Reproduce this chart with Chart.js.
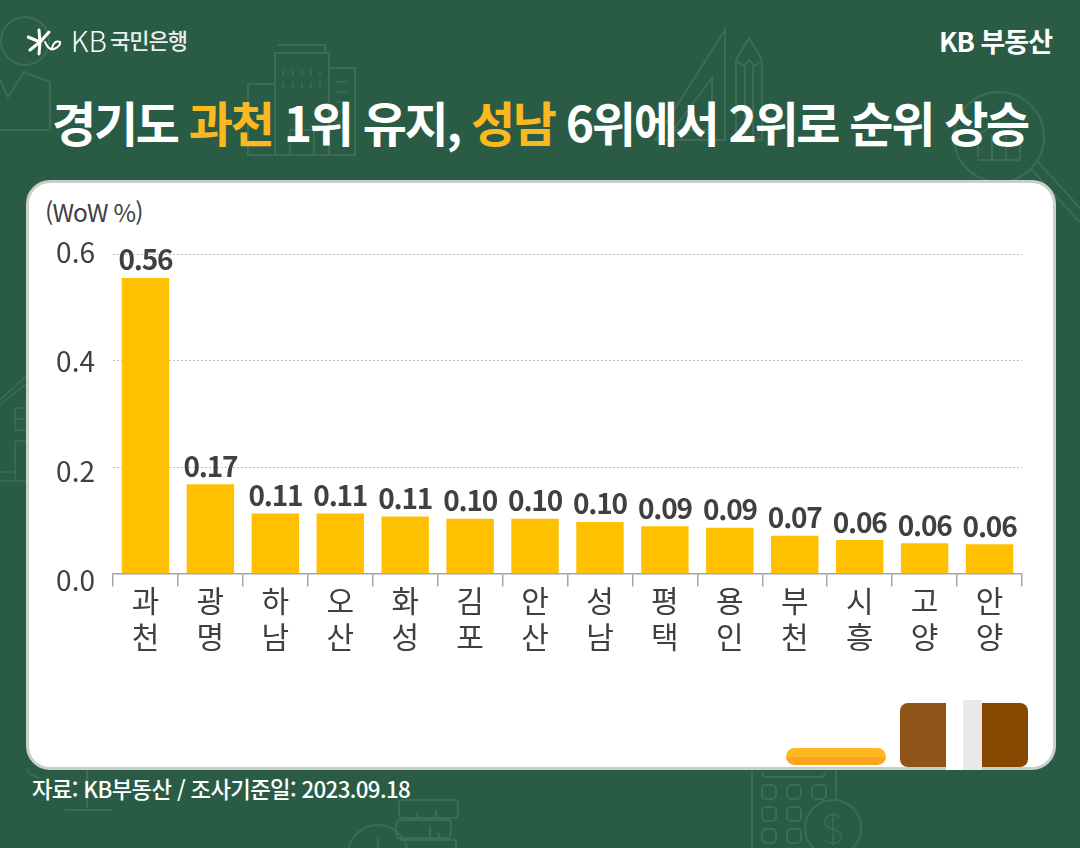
<!DOCTYPE html>
<html lang="ko">
<head>
<meta charset="utf-8">
<title>경기도 과천 1위 유지</title>
<script src="https://cdn.jsdelivr.net/npm/chart.js@4/dist/chart.umd.min.js"></script>
<style>
  * { box-sizing: border-box; }
  html, body { margin: 0; padding: 0; }
  body { width: 1080px; height: 848px; overflow: hidden; background: #2a5c45; position: relative;
         font-family: "Noto Sans CJK KR", "Noto Sans", sans-serif; }
  .txt { position: absolute; white-space: nowrap; line-height: 1; }
  #deco { position: absolute; left: 0; top: 0; }
  #panel { position: absolute; left: 26px; top: 180px; width: 1030px; height: 590px; background: #fff;
           border: 3px solid #c9cfcb; border-radius: 24px; }
  #chart { position: absolute; left: 0; top: 0; }
  #logoKb { left: 71px; top: 26px; font-size: 28px; font-weight: 300; color: #fff; letter-spacing: 0.4px; }
  #logoBank { left: 110px; top: 28px; font-size: 22px; font-weight: 500; color: #e9f0ec; letter-spacing: -1px; }
  #brand { right: 28px; top: 27px; font-size: 27px; font-weight: 700; color: #fff; letter-spacing: -1px; }
  #title { left: 0; width: 1080px; text-align: center; top: 97px; font-size: 48px; font-weight: 700; color: #fff; letter-spacing: -2.3px; }
  #title span { color: #fbb81f; }
  #unit { left: 45px; top: 200px; font-size: 24.5px; color: #404040; letter-spacing: -0.9px; }
  #source { left: 32px; top: 777px; font-size: 22.3px; font-weight: 500; color: #fff; letter-spacing: -0.65px; }
  .blk { position: absolute; }
</style>
</head>
<body>
<svg id="deco" width="1080" height="848" fill="none" stroke="#3c6c57" stroke-width="2">
  <!-- 왼쪽 위 그래프 -->
  <circle cx="25" cy="41" r="24"/>
  <path d="M0 80 L8 97 L24 72 L50 82 V130 H0"/>
  <!-- 건물 -->
  <path d="M248 155 V84 H275 V53 H329 V68 H355 V155 Z M275 84 V155 M329 53 V155 M278 45 H325 V53 M290 130 V155 M314 130 V155 M290 130 H314"/>
  <path d="M335 82 H347 M335 92 H347 M335 102 H347 M335 112 H347 M335 122 H347" stroke-width="1.5"/>
  <path d="M283 70 V75 M293 70 V75 M302 70 V75 M311 70 V75 M320 70 V75 M283 82 V88 M293 82 V88 M302 82 V88 M311 82 V88 M320 82 V88" stroke-width="1.5"/>
  <!-- 삼각자, 연필 -->
  <path d="M725 30 V140 H655 Z M712 78 V130 H673 Z"/>
  <path d="M736 140 V60 L749 38 L762 60 V140 Z M736 60 L743 66 L749 60 L755 66 L762 60 M745 66 V140 M753 66 V140"/>
  <!-- 돋보기 -->
  <circle cx="999" cy="137" r="45"/>
  <path d="M978 157 V135 L999 122 L1020 135 V160 M992 135 V160 M1006 135 V160 M978 160 H1020 M1030 168 L1080 222 M1038 162 L1080 208"/>
  <!-- 왼쪽 집 -->
  <path d="M0 400 L26 376 M0 405 L26 384 M15 408 H26 M15 408 V430 H26 M15 419 H26 M15 441 H26 M15 441 V482 M0 472 H15 M0 481 H26" stroke-width="1.5"/>
  <!-- 아래쪽 장식 -->
  <path d="M752 770 V848 M836 770 V800 M762 772 Q762 777 767 777 H820 Q825 777 825 772"/>
  <rect x="762" y="785" width="14" height="14" rx="4"/><rect x="787" y="785" width="14" height="14" rx="4"/><rect x="812" y="785" width="14" height="14" rx="4"/>
  <rect x="762" y="807" width="14" height="14" rx="4"/><rect x="787" y="807" width="14" height="14" rx="4"/>
  <rect x="762" y="829" width="14" height="14" rx="4"/><rect x="787" y="829" width="14" height="14" rx="4"/>
  <circle cx="833" cy="828" r="28"/>
  <path d="M841 818 Q833 811 826 818 Q822 826 833 829 Q845 833 840 841 Q832 847 824 839 M833 812 V846" stroke-width="1.5"/>
  <path d="M402 800 H456 Q458 800 458 804 V815 Q458 818 454 818 H402 Q399 818 399 814 V804 Q399 800 402 800 Z M398 820 H450 Q452 824 450 838 H398 Q393 829 398 820 Z M400 840 H456 V848 M417 813 V818 M436 810 V818 M430 826 V838 M439 833 V838"/>
  <circle cx="378" cy="855" r="30"/>
  <path d="M378 838 V848"/>
  <path d="M87 770 V808 M65 810 H113" stroke-width="2"/>
  <path d="M26 768 Q28 775 40 778" stroke-width="1.5"/>
</svg>
<div id="panel"></div>
<!-- 패널 아래 장식 -->
<div class="blk" style="left:786px;top:748px;width:100px;height:17px;border-radius:9px;background:linear-gradient(#ffb81f 50%,#fca61f 50%)"></div>
<div class="blk" style="left:900px;top:703px;width:46px;height:64px;border-radius:8px 0 0 8px;background:#8f5518"></div>
<div class="blk" style="left:946px;top:700px;width:36px;height:70px;background:#fff"></div>
<div class="blk" style="left:963px;top:700px;width:19px;height:70px;background:#e9e9e9"></div>
<div class="blk" style="left:982px;top:703px;width:46px;height:64px;border-radius:0 8px 8px 0;background:#844800"></div>

<svg class="blk" style="left:27px;top:28px" width="46" height="28" fill="none" stroke="#fff" stroke-linecap="round">
  <path d="M1 9 L13 14 L3 22 M13 14 L12 26 M12 2 L13 14 M13 14 L22 4" stroke-width="3"/>
  <path d="M18 14 Q22 23 27 21 Q34 18 33 14 Q27 12 25 20" stroke-width="2"/>
</svg>
<div class="txt" id="logoKb">KB</div>
<div class="txt" id="logoBank">국민은행</div>
<div class="txt" id="brand">KB 부동산</div>
<div class="txt" id="title">경기도 <span>과천</span> 1위 유지, <span>성남</span> 6위에서 2위로 순위 상승</div>
<div class="txt" id="unit">(WoW %)</div>
<div class="txt" id="source">자료: KB부동산 / 조사기준일: 2023.09.18</div>

<canvas id="chart" width="1080" height="848"></canvas>

<script>
const categories = [
  ['과', '천'], ['광', '명'], ['하', '남'], ['오', '산'], ['화', '성'], ['김', '포'], ['안', '산'],
  ['성', '남'], ['평', '택'], ['용', '인'], ['부', '천'], ['시', '흥'], ['고', '양'], ['안', '양']
];
const barValues = [0.556, 0.168, 0.113, 0.113, 0.107, 0.103, 0.103, 0.097, 0.089, 0.086, 0.071, 0.063, 0.057, 0.055];
const barLabels = ['0.56', '0.17', '0.11', '0.11', '0.11', '0.10', '0.10', '0.10', '0.09', '0.09', '0.07', '0.06', '0.06', '0.06'];
const yTicks = [0, 0.2, 0.4, 0.6];

const TEXT_COLOR = '#404040';
const FONT = '"Noto Sans CJK KR", "Noto Sans", sans-serif';

// 막대 위 값 라벨
const valueLabels = {
  id: 'valueLabels',
  afterDatasetsDraw(chart) {
    const ctx = chart.ctx;
    const bars = chart.getDatasetMeta(0).data;
    ctx.save();
    ctx.fillStyle = TEXT_COLOR;
    ctx.font = '700 28px ' + FONT;
    ctx.letterSpacing = '-1.2px';
    ctx.textAlign = 'center';
    ctx.textBaseline = 'alphabetic';
    bars.forEach(function (bar, i) {
      ctx.fillText(barLabels[i], bar.x, bar.y - 7.5);
    });
    ctx.restore();
  }
};

// 원본의 y축 글자는 눈금선과 조금씩 어긋나 있어서 직접 그림
const yAxisLabels = {
  id: 'yAxisLabels',
  afterDraw(chart) {
    const ctx = chart.ctx;
    const y = chart.scales.y;
    ctx.save();
    ctx.fillStyle = TEXT_COLOR;
    ctx.font = '400 28px ' + FONT;
    ctx.textAlign = 'right';
    ctx.textBaseline = 'middle';
    y.ticks.forEach(function (t) {
      const shift = (0.6 - t.value) / 0.6 * 9 - 2;
      ctx.fillText(t.value.toFixed(1), 95, y.getPixelForValue(t.value) + shift);
    });
    ctx.restore();
  }
};

new Chart(document.getElementById('chart'), {
  type: 'bar',
  data: {
    labels: categories,
    datasets: [{
      data: barValues,
      backgroundColor: '#ffc000',
      barPercentage: 0.73,
      categoryPercentage: 1
    }]
  },
  plugins: [valueLabels, yAxisLabels],
  options: {
    responsive: false,
    devicePixelRatio: 1,
    animation: false,
    layout: { padding: { left: 113, right: 58, top: 254.5, bottom: 0 } },
    plugins: { legend: { display: false }, tooltip: { enabled: false } },
    scales: {
      x: {
        afterFit(scale) { scale.height = 274.5; },
        border: { display: true, color: '#a6a6a6', width: 1.5 },
        grid: { offset: true, drawOnChartArea: false, drawTicks: true, tickLength: 13, color: '#a6a6a6', lineWidth: 1.5 },
        ticks: {
          color: TEXT_COLOR, maxRotation: 0, autoSkip: false, padding: -3,
          font: { family: FONT, size: 30, lineHeight: 1.17 }
        }
      },
      y: {
        min: 0,
        max: 0.6,
        afterFit(scale) { scale.width = 0; },
        afterBuildTicks(scale) { scale.ticks = yTicks.map(function (v) { return { value: v }; }); },
        border: { display: false, dash: [2, 2] },
        grid: { color: '#bdbdbd', lineWidth: 1, drawTicks: false },
        ticks: { display: false }
      }
    }
  }
});
</script>
</body>
</html>
